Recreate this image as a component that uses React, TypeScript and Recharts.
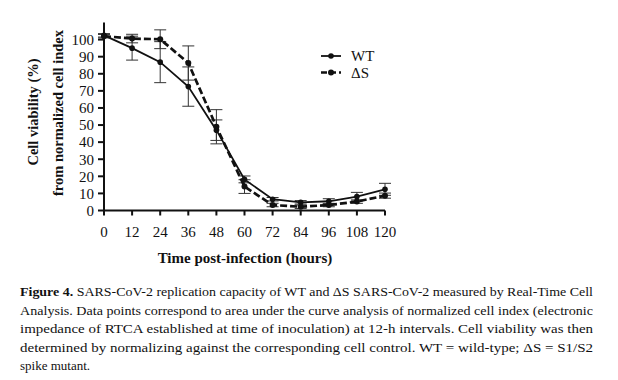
import React from 'react';
import { LineChart, Line, XAxis, YAxis, ErrorBar } from 'recharts';

const hours = [0, 12, 24, 36, 48, 60, 72, 84, 96, 108, 120];
const wtViability = [102.5, 95, 86.8, 72.5, 47, 18.2, 6.6, 4.8, 5.4, 8.1, 12.4];
const wtError = [1, 7, 12, 11.5, 6, 2, 1, 1, 1.5, 2.5, 3.5];
const dsViability = [102, 100.6, 100.2, 86.3, 49, 14, 3.2, 2.2, 3.2, 5.2, 8.7];
const dsError = [1, 2.5, 5.5, 10, 10, 4, 1, 1, 1, 1, 1.5];
const xTicks = [0, 12, 24, 36, 48, 60, 72, 84, 96, 108, 120];
const yTicks = [0, 10, 20, 30, 40, 50, 60, 70, 80, 90, 100];
const seriesNames = ['WT', '\u0394S'];
const captionLines = [
  'SARS-CoV-2 replication capacity of WT and \u0394S SARS-CoV-2 measured by Real-Time Cell',
  'Analysis. Data points correspond to area under the curve analysis of normalized cell index (electronic',
  'impedance of RTCA established at time of inoculation) at 12-h intervals.  Cell viability was then',
  'determined by normalizing against the corresponding cell control.  WT = wild-type; \u0394S = S1/S2',
  'spike mutant.',
];

const data = hours.map((t, i) => ({
  t,
  wt: wtViability[i],
  wtErr: wtError[i],
  ds: dsViability[i],
  dsErr: dsError[i],
}));

const FONT = '"Liberation Serif", "DejaVu Serif", serif';
const INK = '#111';

const Legend2 = () => (
  <g>
    <line x1={321} y1={56} x2={341} y2={56} stroke={INK} strokeWidth={1.8} />
    <circle cx={331} cy={56} r={2.8} fill={INK} />
    <text x={351} y={61} fontSize={15} fontFamily={FONT} fill={INK}>{seriesNames[0]}</text>
    <line x1={321} y1={72.5} x2={341} y2={72.5} stroke={INK} strokeWidth={2.7} strokeDasharray="6 3" />
    <circle cx={331} cy={72.5} r={3} fill={INK} />
    <text x={351} y={77.5} fontSize={15} fontFamily={FONT} fill={INK}>{seriesNames[1]}</text>
  </g>
);

export default function App() {
  return (
    <div style={{ position: 'absolute', left: 0, top: 0, width: 618, height: 380, background: '#fff' }}>
      <LineChart
        width={618}
        height={270}
        data={data}
        margin={{ top: 22.5, right: 233, bottom: 29.5, left: 44 }}
      >
        <XAxis
          type="number"
          dataKey="t"
          domain={[0, 120]}
          ticks={xTicks}
          interval={0}
          height={30}
          axisLine={{ stroke: INK, strokeWidth: 2 }}
          tickLine={{ stroke: INK, strokeWidth: 2 }}
          tickSize={5}
          tickMargin={11}
          tick={{ fontSize: 15, fontFamily: FONT, fill: INK }}
        />
        <YAxis
          type="number"
          domain={[0, 110]}
          ticks={yTicks}
          interval={0}
          width={60}
          axisLine={{ stroke: INK, strokeWidth: 2 }}
          tickLine={{ stroke: INK, strokeWidth: 2 }}
          tickSize={6}
          tickMargin={4}
          tick={{ fontSize: 15, fontFamily: FONT, fill: INK }}
        />
        <Line
          dataKey="wt"
          stroke={INK}
          strokeWidth={1.8}
          isAnimationActive={false}
          dot={{ r: 2.8, fill: INK, stroke: INK, strokeWidth: 0 }}
          activeDot={false}
        >
          <ErrorBar dataKey="wtErr" width={6} strokeWidth={1} stroke="#333" direction="y" />
        </Line>
        <Line
          dataKey="ds"
          stroke={INK}
          strokeWidth={2.7}
          strokeDasharray="7 3"
          isAnimationActive={false}
          dot={{ r: 3, fill: INK, stroke: INK, strokeWidth: 0, strokeDasharray: '0' }}
          activeDot={false}
        >
          <ErrorBar dataKey="dsErr" width={6} strokeWidth={1} stroke="#333" direction="y" />
        </Line>
      </LineChart>
      <svg width={618} height={380} style={{ position: 'absolute', left: 0, top: 0, pointerEvents: 'none' }}>
        <text
          transform="translate(33,112) rotate(-90)"
          textAnchor="middle"
          dominantBaseline="central"
          fontSize={14.5}
          fontWeight="bold"
          fontFamily={FONT}
          fill={INK}
        >
          Cell viability (%)
        </text>
        <text
          transform="translate(58,113) rotate(-90)"
          textAnchor="middle"
          dominantBaseline="central"
          fontSize={14.5}
          fontWeight="bold"
          fontFamily={FONT}
          fill={INK}
        >
          from normalized cell index
        </text>
        <text x={245} y={263} textAnchor="middle" fontSize={15} fontWeight="bold" fontFamily={FONT} fill={INK}>
          Time post-infection (hours)
        </text>
        <Legend2 />
        {captionLines.map((line, i) => {
          const y = 296 + i * 18.5;
          const last = i === captionLines.length - 1;
          return (
            <text
              key={i}
              x={20}
              y={y}
              fontSize={13}
              fontFamily={FONT}
              fill={INK}
              textLength={last ? undefined : 573}
              lengthAdjust={last ? undefined : 'spacingAndGlyphs'}
            >
              {i === 0 ? (
                <>
                  <tspan fontWeight="bold">Figure 4.</tspan> {line}
                </>
              ) : (
                line
              )}
            </text>
          );
        })}
      </svg>
    </div>
  );
}
